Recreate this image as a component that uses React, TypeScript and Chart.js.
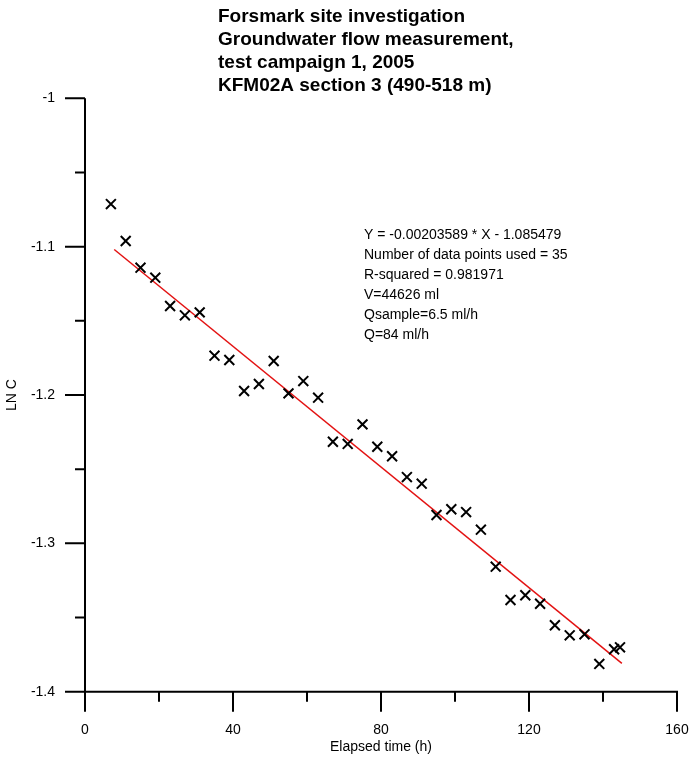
import React, { useEffect, useRef } from 'react';
import { Chart, registerables } from 'chart.js';

Chart.register(...registerables);

// ---- data ----
const elapsedHours = [7, 11, 15, 19, 23, 27, 31, 35, 39, 43, 47, 51, 55, 59, 63, 67, 71, 75, 79, 83, 87, 91, 95, 99, 103, 107, 111, 115, 119, 123, 127, 131, 135, 139, 143, 144.6];
const lnC = [-1.0713, -1.0962, -1.1142, -1.1209, -1.14, -1.1463, -1.1443, -1.1735, -1.1764, -1.1973, -1.1926, -1.1771, -1.1989, -1.1906, -1.2018, -1.2315, -1.233, -1.2198, -1.2349, -1.2413, -1.2553, -1.2598, -1.2809, -1.277, -1.2789, -1.2908, -1.3157, -1.3382, -1.335, -1.3407, -1.3552, -1.362, -1.3613, -1.3813, -1.3714, -1.3701];
const fitHours = [7.9, 145.1];
const fitLnC = [-1.1019, -1.3809];

const xMajorTicks = [0, 40, 80, 120, 160];
const yMajorTicks = [-1, -1.1, -1.2, -1.3, -1.4];

const titleLines = [
  'Forsmark site investigation',
  'Groundwater flow measurement,',
  'test campaign 1, 2005',
  'KFM02A section 3 (490-518 m)',
];
const annotationLines = [
  'Y = -0.00203589 * X - 1.085479',
  'Number of data points used = 35',
  'R-squared = 0.981971',
  'V=44626 ml',
  'Qsample=6.5 ml/h',
  'Q=84 ml/h',
];
const xAxisTitle = 'Elapsed time (h)';
const yAxisTitle = 'LN C';

const FONT = '"Liberation Sans", Arial, sans-serif';

const isMajor = (v: number, list: number[]) => list.some((m) => Math.abs(m - v) < 1e-6);

const axesPlugin = {
  id: 'customAxes',
  afterDraw(chart: any) {
    const ctx = chart.ctx;
    const area = chart.chartArea;
    const xs = chart.scales.x;
    const ys = chart.scales.y;
    ctx.save();
    ctx.strokeStyle = '#000';
    ctx.lineWidth = 2;
    ctx.lineCap = 'butt';
    ctx.beginPath();
    ctx.moveTo(area.left, area.top);
    ctx.lineTo(area.left, area.bottom + 1);
    ctx.moveTo(area.left - 1, area.bottom);
    ctx.lineTo(area.right + 1, area.bottom);
    xs.ticks.forEach((t: any) => {
      const px = xs.getPixelForValue(t.value);
      const len = isMajor(t.value, xMajorTicks) ? 20 : 10;
      ctx.moveTo(px, area.bottom);
      ctx.lineTo(px, area.bottom + len);
    });
    ys.ticks.forEach((t: any) => {
      const py = ys.getPixelForValue(t.value);
      const len = isMajor(t.value, yMajorTicks) ? 20 : 10;
      ctx.moveTo(area.left, py);
      ctx.lineTo(area.left - len, py);
    });
    ctx.stroke();

    ctx.fillStyle = '#000';
    ctx.textAlign = 'left';
    ctx.textBaseline = 'alphabetic';
    ctx.font = `bold 19px ${FONT}`;
    titleLines.forEach((line, i) => {
      ctx.fillText(line, 218, 21.5 + i * 23);
    });

    ctx.font = `14px ${FONT}`;
    ctx.textBaseline = 'middle';
    annotationLines.forEach((line, i) => {
      ctx.fillText(line, 364, 235 + i * 20);
    });
    ctx.restore();
  },
};

export default function App() {
  const canvasRef = useRef<HTMLCanvasElement | null>(null);

  useEffect(() => {
    const canvas = canvasRef.current;
    if (!canvas) return;
    const chart = new Chart(canvas, {
      type: 'scatter',
      data: {
        datasets: [
          {
            label: 'LN C',
            data: elapsedHours.map((h, i) => ({ x: h, y: lnC[i] })),
            pointStyle: 'crossRot',
            pointRadius: 7,
            pointBorderWidth: 2,
            borderColor: '#000',
            backgroundColor: '#000',
            showLine: false,
          },
          {
            label: 'Fit',
            type: 'line',
            data: fitHours.map((h, i) => ({ x: h, y: fitLnC[i] })),
            borderColor: '#e31212',
            borderWidth: 1.5,
            pointRadius: 0,
            fill: false,
          } as any,
        ],
      },
      options: {
        responsive: false,
        animation: false,
        devicePixelRatio: 1,
        layout: { padding: { top: 98.3, right: 14, bottom: 0, left: 0 } },
        plugins: {
          legend: { display: false },
          tooltip: { enabled: false },
          title: { display: false },
        },
        scales: {
          x: {
            type: 'linear',
            min: 0,
            max: 160,
            grid: { display: false, drawTicks: true, tickLength: 20 },
            border: { display: false },
            ticks: {
              stepSize: 20,
              color: '#000',
              padding: 10,
              maxRotation: 0,
              autoSkip: false,
              font: { family: FONT, size: 14 },
              callback: (v: any) => (isMajor(Number(v), xMajorTicks) ? String(v) : ''),
            },
            title: {
              display: true,
              text: xAxisTitle,
              color: '#000',
              font: { family: FONT, size: 14 },
              padding: { top: 0, bottom: 2 },
            },
            afterFit: (scale: any) => {
              scale.height = 66.3;
              scale.paddingLeft = 0;
              scale.paddingRight = 0;
            },
          },
          y: {
            type: 'linear',
            min: -1.4,
            max: -1,
            grid: { display: false, drawTicks: true, tickLength: 20 },
            border: { display: false },
            ticks: {
              stepSize: 0.05,
              color: '#000',
              padding: 10,
              autoSkip: false,
              font: { family: FONT, size: 14 },
              callback: (v: any) => {
                const n = Number(v);
                return isMajor(n, yMajorTicks) ? String(+n.toFixed(1)) : '';
              },
            },
            title: {
              display: true,
              text: yAxisTitle,
              color: '#000',
              font: { family: FONT, size: 14 },
              padding: { top: 4, bottom: 4 },
            },
            afterFit: (scale: any) => {
              scale.width = 85;
              scale.paddingTop = 0;
              scale.paddingBottom = 0;
            },
          },
        },
      },
      plugins: [axesPlugin],
    });
    return () => chart.destroy();
  }, []);

  return (
    <div style={{ position: 'fixed', left: 0, top: 0, width: 691, height: 758, background: '#fff' }}>
      <canvas ref={canvasRef} width={691} height={758} style={{ display: 'block', width: 691, height: 758 }} />
    </div>
  );
}
